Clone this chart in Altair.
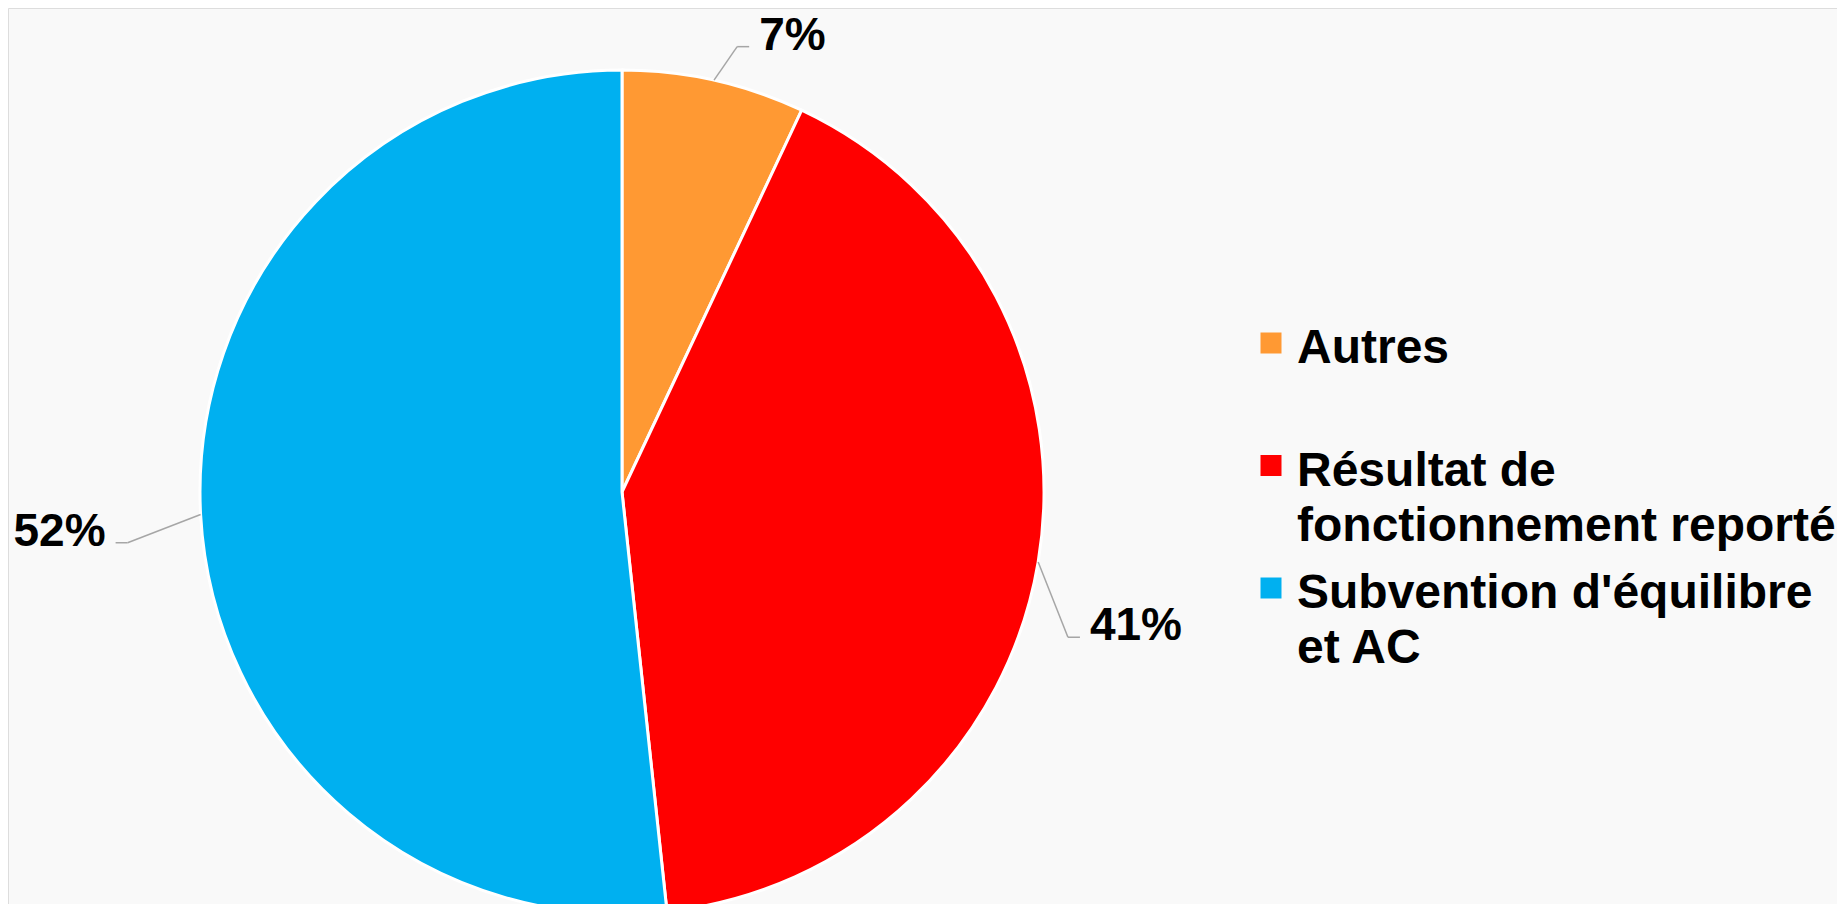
import altair as alt
import pandas as pd

# ---- data ----
categories = ["Autres", "Résultat de fonctionnement reporté", "Subvention d'équilibre et AC"]
values = [7.0, 41.3, 51.7]
legend_lines = ["Autres", "Résultat de|fonctionnement reporté", "Subvention d'équilibre|et AC"]
colors = ["#FF9933", "#FF0000", "#00B0F0"]

# ---- layout / style ----
W, H = 1829, 896
CX, CY, R = 614, 484, 422
# label placement (angle shift in degrees, radius of the leader elbow)
label_shift = [1.9, 8.5, -2.8]
label_radius = [460, 469, 497]
FONT = "Liberation Sans"

df = pd.DataFrame({
    "category": categories,
    "value": values,
    "order": list(range(len(categories))),
    "shift": label_shift,
    "lrad": label_radius,
})

leg = pd.DataFrame({
    "category": categories,
    "label": legend_lines,
    "idx": list(range(len(categories))),
})

color_scale = alt.Scale(domain=categories, range=colors)
xs = alt.Scale(domain=[0, W], nice=False, zero=False)
ys = alt.Scale(domain=[0, H], reverse=True, nice=False, zero=False)

base = (
    alt.Chart(df)
    .transform_joinaggregate(total="sum(value)")
    .transform_window(cum="sum(value)", sort=[alt.SortField("order")])
    .transform_calculate(
        mid="(datum.cum - datum.value/2) / datum.total * 2 * PI",
        pct="format(datum.value / datum.total, '.0%')",
    )
    .transform_calculate(
        sx=f"{CX} + {R} * sin(datum.mid)",
        sy=f"{CY} - {R} * cos(datum.mid)",
        la="datum.mid + datum.shift * PI / 180",
    )
    .transform_calculate(
        ex=f"{CX} + datum.lrad * sin(datum.la)",
        ey=f"{CY} - datum.lrad * cos(datum.la)",
        side="sin(datum.la) >= 0 ? 1 : -1",
    )
    .transform_calculate(
        hx="datum.ex + datum.side * 12",
    )
    .transform_calculate(
        tx="datum.hx + datum.side * 10",
        ty="datum.ey + 3",
    )
)

pie = alt.Chart(df).mark_arc(outerRadius=R, stroke="white", strokeWidth=3).encode(
    theta=alt.Theta("value:Q", stack=True),
    order=alt.Order("order:Q"),
    color=alt.Color("category:N", scale=color_scale, legend=None),
    x=alt.value(CX),
    y=alt.value(CY),
)

lead1 = base.mark_rule(color="#a6a6a6", strokeWidth=1.5).encode(
    x=alt.X("sx:Q", scale=xs, axis=None),
    y=alt.Y("sy:Q", scale=ys, axis=None),
    x2="ex:Q",
    y2="ey:Q",
)
lead2 = base.mark_rule(color="#a6a6a6", strokeWidth=1.5).encode(
    x=alt.X("ex:Q", scale=xs, axis=None),
    y=alt.Y("ey:Q", scale=ys, axis=None),
    x2="hx:Q",
    y2="ey:Q",
)

lab_right = base.transform_filter("datum.side > 0").mark_text(
    align="left", baseline="alphabetic", font=FONT, fontWeight="bold", fontSize=46, color="black"
).encode(
    x=alt.X("tx:Q", scale=xs, axis=None),
    y=alt.Y("ty:Q", scale=ys, axis=None),
    text="pct:N",
)
lab_left = base.transform_filter("datum.side < 0").mark_text(
    align="right", baseline="alphabetic", font=FONT, fontWeight="bold", fontSize=46, color="black"
).encode(
    x=alt.X("tx:Q", scale=xs, axis=None),
    y=alt.Y("ty:Q", scale=ys, axis=None),
    text="pct:N",
)

LEG_Y0, LEG_DY = 355, 122.5
leg_base = alt.Chart(leg).transform_calculate(
    by=f"{LEG_Y0} + datum.idx * {LEG_DY}",
    lines="split(datum.label, '|')",
).transform_calculate(
    sqy="datum.by - 20",
)

leg_sq = leg_base.mark_square(size=21 * 21, opacity=1, strokeWidth=0).encode(
    x=alt.value(1263),
    y=alt.Y("sqy:Q", scale=ys, axis=None),
    color=alt.Color("category:N", scale=color_scale, legend=None),
)
leg_txt = leg_base.mark_text(
    align="left", baseline="alphabetic", font=FONT, fontWeight="bold", fontSize=48,
    lineHeight=55, color="black",
).encode(
    x=alt.value(1289),
    y=alt.Y("by:Q", scale=ys, axis=None),
    text="lines:N",
)

chart = (
    alt.layer(pie, lead1, lead2, lab_right, lab_left, leg_sq, leg_txt)
    .properties(width=W, height=H, autosize=alt.AutoSizeParams(type="none"), padding=0)
    .configure_view(stroke=None)
    .configure(background="#f9f9f9")
)

chart.save("out.html", embed_options={"renderer": "svg", "actions": False})
